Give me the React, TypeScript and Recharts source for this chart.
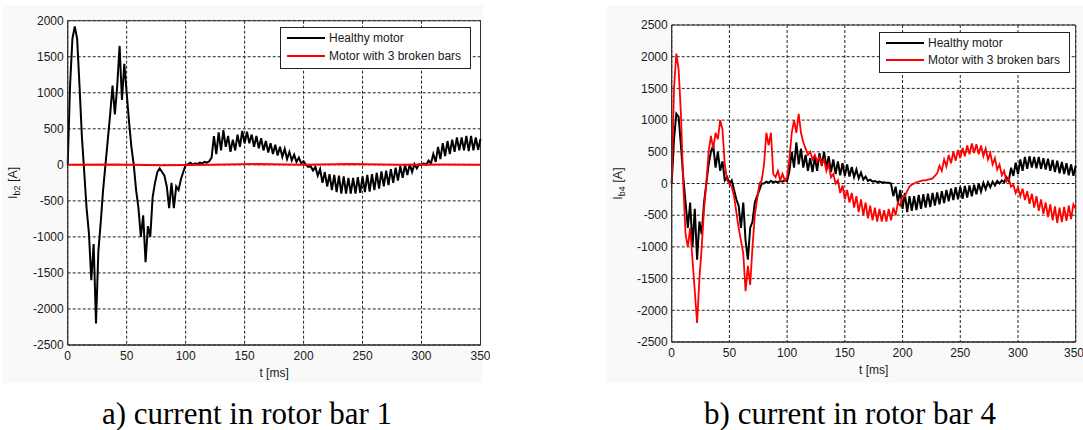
import React from "react";
import {
  LineChart,
  Line,
  XAxis,
  YAxis,
  CartesianGrid,
  ReferenceArea,
} from "recharts";

// time axis in ms, one sample every 2 ms
const timeMs = [
  0, 2, 4, 6, 8, 10, 12, 14, 16, 18,
  20, 22, 24, 26, 28, 30, 32, 34, 36, 38,
  40, 42, 44, 46, 48, 50, 52, 54, 56, 58,
  60, 62, 64, 66, 68, 70, 72, 74, 76, 78,
  80, 82, 84, 86, 88, 90, 92, 94, 96, 98,
  100, 102, 104, 106, 108, 110, 112, 114, 116, 118,
  120, 122, 124, 126, 128, 130, 132, 134, 136, 138,
  140, 142, 144, 146, 148, 150, 152, 154, 156, 158,
  160, 162, 164, 166, 168, 170, 172, 174, 176, 178,
  180, 182, 184, 186, 188, 190, 192, 194, 196, 198,
  200, 202, 204, 206, 208, 210, 212, 214, 216, 218,
  220, 222, 224, 226, 228, 230, 232, 234, 236, 238,
  240, 242, 244, 246, 248, 250, 252, 254, 256, 258,
  260, 262, 264, 266, 268, 270, 272, 274, 276, 278,
  280, 282, 284, 286, 288, 290, 292, 294, 296, 298,
  300, 302, 304, 306, 308, 310, 312, 314, 316, 318,
  320, 322, 324, 326, 328, 330, 332, 334, 336, 338,
  340, 342, 344, 346, 348, 350,
];

// a) rotor bar 1, healthy motor [A]
const healthyBar1 = [
  0, 1100, 1750, 1920, 1750, 1100, 400, -100, -600, -950,
  -1600, -1100, -2200, -1200, -800, -350, 0, 350, 700, 1100,
  700, 1100, 1650, 900, 1400, 1000, 600, 250, 0, -350,
  -600, -1000, -700, -1350, -850, -1000, -450, -250, -100, -50,
  -100, -150, -300, -600, -250, -600, -300, -350, -200, -100,
  0, 10, 30, 0, 20, 10, 30, 20, 40, 30,
  50, 100, 400, 150, 450, 200, 480, 250, 400, 180,
  350, 200, 420, 250, 470, 300, 460, 300, 420, 250,
  400, 230, 370, 200, 330, 170, 300, 150, 280, 130,
  250, 110, 220, 80, 180, 60, 140, 40, 100, 20,
  50, 0, -30, -20, -80, -30, -150, -60, -250, -100,
  -300, -130, -350, -140, -380, -150, -400, -160, -400, -180,
  -400, -180, -400, -170, -390, -160, -380, -140, -370, -130,
  -350, -110, -330, -90, -300, -80, -280, -60, -250, -40,
  -220, -20, -180, 0, -140, 10, -100, 10, -50, 10,
  0, 20, 0, 60, 20, 150, 40, 250, 80, 300,
  120, 330, 150, 350, 180, 380, 200, 380, 200, 400,
  190, 400, 200, 380, 210, 360,
];

// a) rotor bar 1, motor with 3 broken bars (stays at zero)
const brokenBar1Time = [0, 40, 80, 120, 160, 200, 240, 280, 320, 350];
const brokenBar1 = [0, 5, -5, 0, 10, 0, 10, 0, 5, 0];

// b) rotor bar 4, healthy motor [A]
const healthyBar4 = [
  0, 700, 1100, 1050, 600, 100, -300, -700, -300, -1000,
  -400, -1200, -600, -800, -300, 0, 300, 500, 600, 250,
  500, 200, 350, 50, 100, 0, 50, -100, -250, -350,
  -700, -300, -900, -1200, -700, -600, -300, -200, -100, 0,
  0, 30, 10, 40, 20, 30, 20, 40, 30, 50,
  40, 200, 500, 250, 650, 300, 550, 250, 450, 200,
  400, 180, 420, 200, 480, 280, 500, 250, 430, 180,
  380, 150, 350, 130, 320, 120, 300, 110, 260, 100,
  220, 80, 170, 60, 110, 40, 60, 30, 40, 20,
  30, 15, 20, 10, 10, 0, -200, -50, -300, -100,
  -400, -150, -450, -200, -430, -200, -420, -180, -400, -170,
  -380, -160, -370, -150, -350, -140, -330, -120, -310, -100,
  -280, -80, -260, -60, -250, -50, -240, -40, -220, -30,
  -200, -20, -170, 0, -130, 10, -90, 20, -60, 30,
  -30, 40, 0, 50, 20, 100, 40, 250, 120, 330,
  150, 380, 200, 420, 230, 430, 250, 420, 240, 420,
  230, 400, 220, 390, 200, 370, 180, 360, 160, 340,
  150, 320, 130, 300, 120, 280,
];

// b) rotor bar 4, motor with 3 broken bars [A]
const brokenBar4 = [
  0, 1500, 2050, 1800, 1100, 0, -800, -1000, -700, -1200,
  -1700, -2200, -1500, -1000, -400, 0, 500, 750, 550, 800,
  700, 1000, 850, 300, 50, 0, -50, -200, -450, -700,
  -900, -1100, -1700, -1300, -1600, -1000, -500, -250, 0, 50,
  300, 800, 600, 800, 150, 100, 200, 50, 150, 50,
  100, 400, 800, 1000, 800, 1100, 800, 650, 550, 450,
  500, 380, 450, 350, 420, 300, 380, 200, 300, 100,
  150, 0, 50, -150, -30, -250, -100, -300, -150, -380,
  -200, -450, -250, -500, -300, -550, -350, -580, -380, -600,
  -400, -600, -420, -600, -400, -580, -380, -500, -300, -350,
  -200, -200, -120, -50, -20, 0, 20, 30, 40, 50,
  50, 60, 70, 80, 120, 160, 280, 200, 380, 270,
  450, 320, 500, 360, 530, 400, 560, 430, 600, 460,
  630, 480, 620, 460, 600, 430, 550, 380, 480, 300,
  400, 220, 300, 130, 200, 30, 80, -50, -20, -150,
  -60, -200, -80, -260, -120, -320, -160, -380, -200, -430,
  -250, -480, -300, -530, -330, -580, -360, -620, -380, -610,
  -370, -590, -350, -560, -330, -400,
];

const xTicks = [0, 50, 100, 150, 200, 250, 300, 350];
const yTicksBar1 = [-2500, -2000, -1500, -1000, -500, 0, 500, 1000, 1500, 2000];
const yTicksBar4 = [-2500, -2000, -1500, -1000, -500, 0, 500, 1000, 1500, 2000, 2500];
const seriesNames = ["Healthy motor", "Motor with 3 broken bars"];
const captions = ["a) current in rotor bar 1", "b) current in rotor bar 4"];

const rowsBar1 = timeMs.map((t, i) => ({ t, healthy: healthyBar1[i] }));
const rowsBroken1 = brokenBar1Time.map((t, i) => ({ t, broken: brokenBar1[i] }));
const rowsBar4 = timeMs.map((t, i) => ({
  t,
  healthy: healthyBar4[i],
  broken: brokenBar4[i],
}));

const SANS = "'Liberation Sans', Arial, Helvetica, sans-serif";
const FIG_BG = "#f8f9f8";
const INK = "#1a1a1a";

const yLabel = (sub: string, cx: number) => (props: any) => {
  const vb = props.viewBox;
  const cy = vb.y + vb.height / 2;
  return (
    <text
      x={cx}
      y={cy}
      transform={`rotate(-90 ${cx} ${cy})`}
      textAnchor="middle"
      fontSize={12.5}
      fontFamily={SANS}
      fill={INK}
    >
      I
      <tspan fontSize={9} dy={3}>
        {sub}
      </tspan>
      <tspan dy={-3}> [A]</tspan>
    </text>
  );
};

const xLabel = (props: any) => {
  const vb = props.viewBox;
  return (
    <text
      x={vb.x + vb.width / 2}
      y={vb.y + 31.5}
      textAnchor="middle"
      fontSize={12}
      fontFamily={SANS}
      fill={INK}
    >
      t [ms]
    </text>
  );
};

function LegendBox({ left, top }: { left: number; top: number }) {
  const row = (color: string, label: string) => (
    <div style={{ display: "flex", alignItems: "center", height: 17.5 }}>
      <div style={{ width: 38, height: 2, background: color, marginLeft: 6, marginRight: 4 }} />
      <span>{label}</span>
    </div>
  );
  return (
    <div
      style={{
        position: "absolute",
        left,
        top,
        width: 189,
        height: 38,
        border: "1px solid #222",
        background: "#fff",
        fontFamily: SANS,
        fontSize: 12,
        color: INK,
        paddingTop: 1.5,
        boxSizing: "content-box",
      }}
    >
      {row("#000", seriesNames[0])}
      {row("#ff0000", seriesNames[1])}
    </div>
  );
}

const tickStyle = { fill: INK, fontSize: 12, fontFamily: SANS };

export default function App() {
  return (
    <div
      style={{
        position: "absolute",
        left: 0,
        top: 0,
        width: 1083,
        height: 430,
        background: "#fff",
        overflow: "hidden",
      }}
    >
      <div style={{ position: "absolute", left: 2, top: 5, width: 481, height: 378, background: FIG_BG }} />
      <div style={{ position: "absolute", left: 607, top: 5, width: 476, height: 378, background: FIG_BG }} />

      {/* a) rotor bar 1 */}
      <div style={{ position: "absolute", left: 0, top: 0 }}>
        <LineChart
          width={490}
          height={390}
          data={rowsBar1}
          margin={{ top: 20.7, right: 9.5, bottom: 15, left: 7.7 }}
        >
          <CartesianGrid stroke="#222" strokeDasharray="3 2" fill="#fff" />
          <XAxis
            dataKey="t"
            type="number"
            domain={[0, 350]}
            ticks={xTicks}
            tick={tickStyle}
            tickLine={false}
            tickSize={4}
            tickMargin={2}
            height={30}
            axisLine={{ stroke: "#333" }}
            label={xLabel}
          />
          <YAxis
            type="number"
            domain={[-2500, 2000]}
            ticks={yTicksBar1}
            tick={tickStyle}
            tickLine={false}
            tickSize={2}
            tickMargin={2}
            width={60}
            axisLine={{ stroke: "#333" }}
            label={yLabel("b2", 17)}
          />
          <ReferenceArea x1={0} x2={350} y1={-2500} y2={2000} fill="none" stroke="#333" ifOverflow="visible" />
          <Line
            dataKey="healthy"
            type="linear"
            stroke="#000"
            strokeWidth={2}
            dot={false}
            isAnimationActive={false}
          />
          <Line
            data={rowsBroken1}
            dataKey="broken"
            type="linear"
            stroke="#ff0000"
            strokeWidth={2}
            dot={false}
            isAnimationActive={false}
          />
        </LineChart>
      </div>

      {/* b) rotor bar 4 */}
      <div style={{ position: "absolute", left: 600, top: 0 }}>
        <LineChart
          width={483}
          height={390}
          data={rowsBar4}
          margin={{ top: 25, right: 7.3, bottom: 18, left: 11.7 }}
        >
          <CartesianGrid stroke="#222" strokeDasharray="3 2" fill="#fff" />
          <XAxis
            dataKey="t"
            type="number"
            domain={[0, 350]}
            ticks={xTicks}
            tick={tickStyle}
            tickLine={false}
            tickSize={4}
            tickMargin={2}
            height={30}
            axisLine={{ stroke: "#333" }}
            label={xLabel}
          />
          <YAxis
            type="number"
            domain={[-2500, 2500]}
            ticks={yTicksBar4}
            tick={tickStyle}
            tickLine={false}
            tickSize={2}
            tickMargin={2}
            width={60}
            axisLine={{ stroke: "#333" }}
            label={yLabel("b4", 22)}
          />
          <ReferenceArea x1={0} x2={350} y1={-2500} y2={2500} fill="none" stroke="#333" ifOverflow="visible" />
          <Line
            dataKey="healthy"
            type="linear"
            stroke="#000"
            strokeWidth={2}
            dot={false}
            isAnimationActive={false}
          />
          <Line
            dataKey="broken"
            type="linear"
            stroke="#ff0000"
            strokeWidth={1.8}
            dot={false}
            isAnimationActive={false}
          />
        </LineChart>
      </div>

      <LegendBox left={280} top={27} />
      <LegendBox left={879} top={31.5} />

      {captions.map((c, i) => (
        <div
          key={c}
          style={{
            position: "absolute",
            left: i === 0 ? -3 : 600,
            top: 398,
            width: 500,
            textAlign: "center",
            fontFamily: "'Liberation Serif', 'Times New Roman', serif",
            fontSize: 31,
            lineHeight: "31px",
            color: "#000",
          }}
        >
          {c}
        </div>
      ))}
    </div>
  );
}
